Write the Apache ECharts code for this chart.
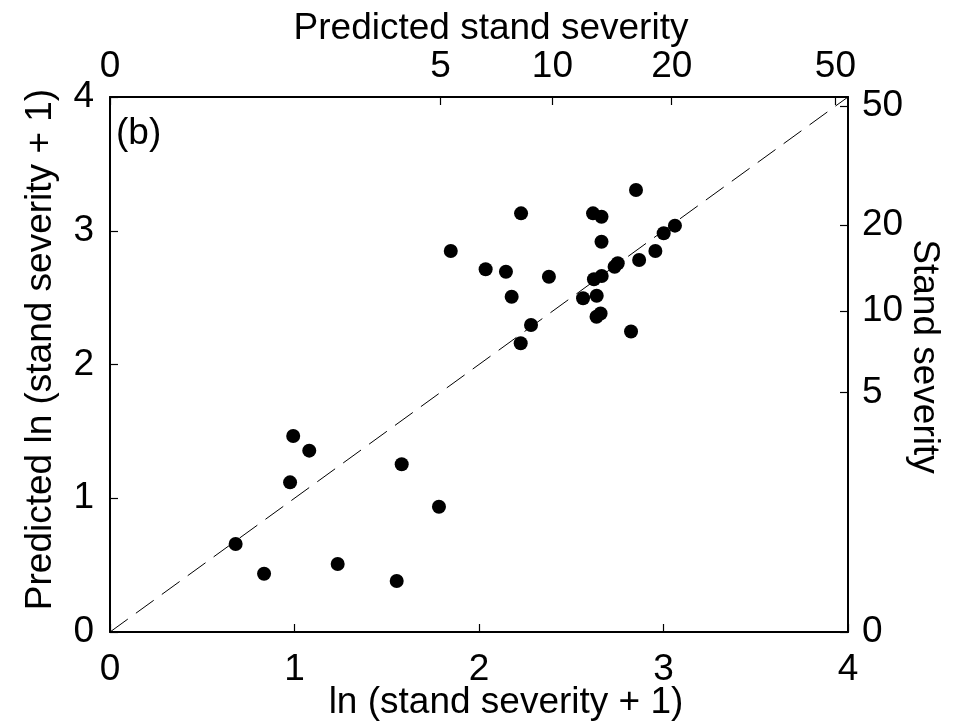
<!DOCTYPE html>
<html>
<head>
<meta charset="utf-8">
<script src="https://cdn.jsdelivr.net/npm/echarts@6/dist/echarts.min.js"></script>
<style>html,body{margin:0;padding:0;background:#fff}#c{width:959px;height:725px}</style>
</head>
<body>
<div id="c"></div>
<script>
const observed = [0.681,0.835,0.993,1.080,0.976,1.581,1.783,1.234,1.554,1.847,2.036,2.146,2.177,2.228,2.379,2.282,2.226,2.564,2.618,2.664,2.664,2.623,2.665,2.638,2.637,2.659,2.735,2.752,2.824,2.851,2.868,2.956,3.001,3.062];
const predicted = [0.658,0.436,1.465,1.356,1.119,1.254,0.937,0.508,0.381,2.849,2.712,2.694,2.507,3.130,2.656,2.295,2.159,2.495,3.130,3.105,2.918,2.637,2.662,2.514,2.357,2.381,2.731,2.757,2.247,3.305,2.781,2.849,2.981,3.038];
const lnTicks = [0,1,2,3,4];
const severityTicks = [0,5,10,20,50];
const diagonal = [[0,0],[4,4]];
const panelLabel = '(b)';

const FONT = 'Liberation Sans';
const FS = 37;
const sevPos = severityTicks.map(v => Math.log(v + 1));
const sevFmt = v => String(Math.round(Math.exp(v) - 1));
const lineStyle = {color:'#000', width:2};
const tick = {show:true, inside:true, length:8, lineStyle:{color:'#000', width:1.2}};
const lbl = {color:'#000', fontFamily:FONT, fontSize:FS};

const chart = echarts.init(document.getElementById('c'), null, {renderer:'canvas'});
chart.setOption({
  animation:false,
  backgroundColor:'#fff',
  textStyle:{fontFamily:FONT},
  grid:{left:110, right:111, top:97, bottom:93, containLabel:false, outerBoundsMode:'none'},
  title:{text:panelLabel, left:111, top:110, textStyle:{fontFamily:FONT, fontSize:FS, fontWeight:'normal', color:'#000'}},
  xAxis:[
    {type:'value', position:'bottom', min:0, max:4, interval:1,
     name:'ln (stand severity + 1)', nameLocation:'middle', nameGap:52, nameMoveOverlap:false,
     nameTextStyle:Object.assign({padding:[0,0,0,54]}, lbl), axisLine:{show:true, onZero:false, lineStyle},
     axisTick:tick, axisLabel:Object.assign({margin:19, formatter:v=>String(v)}, lbl), splitLine:{show:false}},
    {type:'value', position:'top', min:0, max:4,
     name:'Predicted stand severity', nameLocation:'middle', nameGap:50, nameMoveOverlap:false,
     nameTextStyle:Object.assign({padding:[0,0,0,24]}, lbl), axisLine:{show:true, onZero:false, lineStyle},
     axisTick:Object.assign({customValues:sevPos}, tick),
     axisLabel:Object.assign({margin:12, customValues:sevPos, formatter:sevFmt}, lbl), splitLine:{show:false}}
  ],
  yAxis:[
    {type:'value', position:'left', min:0, max:4, interval:1,
     name:'Predicted ln (stand severity + 1)', nameLocation:'middle', nameGap:51, nameMoveOverlap:false,
     nameTextStyle:Object.assign({padding:[0,0,0,30]}, lbl), axisLine:{show:true, onZero:false, lineStyle},
     axisTick:tick, axisLabel:Object.assign({margin:16, formatter:v=>String(v)}, lbl), splitLine:{show:false}},
    {type:'value', position:'right', min:0, max:4,
     name:'Stand severity', nameLocation:'middle', nameGap:58, nameRotate:-90, nameMoveOverlap:false,
     nameTextStyle:Object.assign({padding:[0,16,0,0]}, lbl), axisLine:{show:true, onZero:false, lineStyle},
     axisTick:Object.assign({customValues:sevPos}, tick),
     axisLabel:Object.assign({margin:14, customValues:sevPos, formatter:sevFmt}, lbl), splitLine:{show:false}}
  ],
  series:[
    {type:'line', xAxisIndex:0, yAxisIndex:0, data:diagonal, symbol:'none', silent:true,
     lineStyle:{color:'#000', width:1, type:[22,10]}, z:1},
    {type:'scatter', xAxisIndex:0, yAxisIndex:0, symbol:'circle', symbolSize:14,
     itemStyle:{color:'#000', opacity:1}, data:observed.map((x,i)=>[x, predicted[i]]), z:2}
  ]
});
</script>
</body>
</html>
